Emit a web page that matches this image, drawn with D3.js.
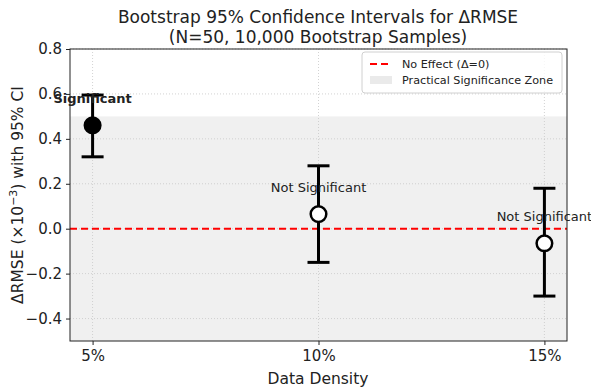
<!DOCTYPE html>
<html lang="en">
<head>
<meta charset="UTF-8">
<title>Bootstrap CI</title>
<script src="https://d3js.org/d3.v7.min.js"></script>
<style>
  body { margin: 0; background: #fff; }
  text { font-family: "DejaVu Sans", sans-serif; fill: #222; }
</style>
</head>
<body>
<svg id="chart" width="591" height="390"></svg>
<script>
// data
var densities = ["5%", "10%", "15%"];
var meanDelta = [0.46, 0.065, -0.065];
var ciLow = [0.32, -0.15, -0.30];
var ciHigh = [0.595, 0.28, 0.18];
var significant = [true, false, false];
var yTicks = [-0.4, -0.2, 0.0, 0.2, 0.4, 0.6, 0.8];

var margin = {left: 70, right: 24, top: 49, bottom: 49};
var W = 591, H = 390;
var svg = d3.select("#chart");

var x = d3.scaleLinear().domain([-0.1, 2.1]).range([margin.left, W - margin.right]);
var y = d3.scaleLinear().domain([-0.5, 0.8]).range([H - margin.bottom, margin.top]);

// practical significance zone
svg.append("rect")
    .attr("x", x(-0.1)).attr("width", x(2.1) - x(-0.1))
    .attr("y", y(0.5)).attr("height", y(-0.5) - y(0.5))
    .attr("fill", "#f0f0f0");

// grid
svg.append("g").selectAll("line").data(yTicks).enter().append("line")
    .attr("x1", x(-0.1)).attr("x2", x(2.1))
    .attr("y1", d => y(d)).attr("y2", d => y(d))
    .attr("stroke", "#c8c8c8").attr("stroke-width", 0.8).attr("stroke-dasharray", "1,2");
svg.append("g").selectAll("line").data(densities).enter().append("line")
    .attr("x1", (d, i) => x(i)).attr("x2", (d, i) => x(i))
    .attr("y1", y(0.8)).attr("y2", y(-0.5))
    .attr("stroke", "#c8c8c8").attr("stroke-width", 0.8).attr("stroke-dasharray", "1,2");

// zero line
svg.append("line")
    .attr("x1", x(-0.1)).attr("x2", x(2.1))
    .attr("y1", y(0)).attr("y2", y(0))
    .attr("stroke", "#ff0000").attr("stroke-width", 2).attr("stroke-dasharray", "7,4");

// axes
var yAxis = d3.axisLeft(y).tickValues(yTicks).tickFormat(d3.format(".1f")).tickSize(4);
var xAxis = d3.axisBottom(x).tickValues([0, 1, 2]).tickFormat(i => densities[i]).tickSize(4);
svg.append("g").attr("transform", "translate(" + margin.left + ",0)").call(yAxis)
    .call(g => g.select(".domain").remove())
    .selectAll("text").attr("font-size", 15).attr("dx", "-1");
svg.append("g").attr("transform", "translate(0," + (H - margin.bottom) + ")").call(xAxis)
    .call(g => g.select(".domain").remove())
    .selectAll("text").attr("font-size", 15).attr("dy", "0.85em");
svg.selectAll(".tick line").attr("stroke", "#222");

svg.append("rect")
    .attr("x", x(-0.1)).attr("y", y(0.8))
    .attr("width", x(2.1) - x(-0.1)).attr("height", y(-0.5) - y(0.8))
    .attr("fill", "none").attr("stroke", "#222").attr("stroke-width", 1);

// error bars
var bars = svg.append("g");
densities.forEach(function(d, i) {
    var cx = x(i);
    bars.append("line").attr("x1", cx).attr("x2", cx)
        .attr("y1", y(ciLow[i])).attr("y2", y(ciHigh[i]))
        .attr("stroke", "#000").attr("stroke-width", 3);
    [ciLow[i], ciHigh[i]].forEach(function(v) {
        bars.append("line").attr("x1", cx - 11).attr("x2", cx + 11)
            .attr("y1", y(v)).attr("y2", y(v))
            .attr("stroke", "#000").attr("stroke-width", 3);
    });
    bars.append("circle").attr("cx", cx).attr("cy", y(meanDelta[i])).attr("r", 7.8)
        .attr("fill", significant[i] ? "#000" : "#fff")
        .attr("stroke", "#000").attr("stroke-width", 2.5);
    svg.append("text")
        .attr("x", cx).attr("y", y(meanDelta[i] + 0.1))
        .attr("text-anchor", "middle").attr("font-size", 13)
        .attr("font-weight", significant[i] ? "bold" : "normal")
        .text(significant[i] ? "Significant" : "Not Significant");
});

// title
svg.append("text").attr("x", 318).attr("y", 23).attr("text-anchor", "middle")
    .attr("font-size", 17).text("Bootstrap 95% Confidence Intervals for ΔRMSE");
svg.append("text").attr("x", 318).attr("y", 43).attr("text-anchor", "middle")
    .attr("font-size", 17).text("(N=50, 10,000 Bootstrap Samples)");

// axis labels
svg.append("text").attr("x", 318).attr("y", 384).attr("text-anchor", "middle")
    .attr("font-size", 15.5).text("Data Density");
var yl = svg.append("text").attr("transform", "translate(23," + y(0.15) + ") rotate(-90)")
    .attr("text-anchor", "middle").attr("font-size", 15.5);
yl.append("tspan").text("ΔRMSE (×10");
yl.append("tspan").attr("font-size", 11).attr("dy", -6).text("−3");
yl.append("tspan").attr("dy", 6).text(") with 95% CI");

// legend
var lg = svg.append("g").attr("transform", "translate(362,52)");
lg.append("rect").attr("width", 200).attr("height", 41).attr("rx", 3)
    .attr("fill", "#fff").attr("fill-opacity", 0.8).attr("stroke", "#d0d0d0");
lg.append("line").attr("x1", 8).attr("x2", 30).attr("y1", 12).attr("y2", 12)
    .attr("stroke", "#ff0000").attr("stroke-width", 2).attr("stroke-dasharray", "7,4");
lg.append("text").attr("x", 40).attr("y", 16).attr("font-size", 11.2).text("No Effect (Δ=0)");
lg.append("rect").attr("x", 8).attr("y", 24).attr("width", 22).attr("height", 8).attr("fill", "#eaeaea");
lg.append("text").attr("x", 40).attr("y", 32).attr("font-size", 11.2).text("Practical Significance Zone");
</script>
</body>
</html>
